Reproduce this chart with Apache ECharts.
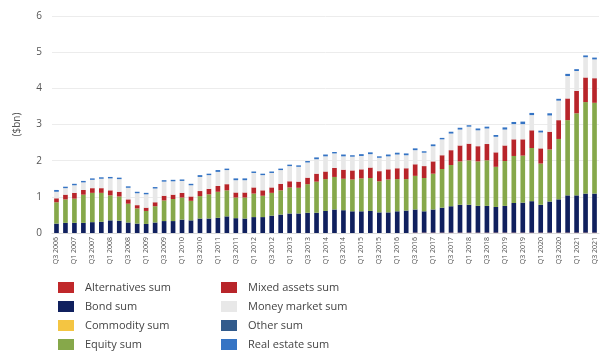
<!DOCTYPE html>
<html>
<head>
<meta charset="utf-8">
<script src="https://cdn.jsdelivr.net/npm/echarts@6/dist/echarts.min.js"></script>
<style>
  html, body { margin: 0; padding: 0; background: #fff; }
  #main { width: 600px; height: 356px; }
</style>
</head>
<body>
<div id="main"></div>
<script>
// quarters Q3 2006 .. Q3 2021
const quarters = [
  'Q3 2006','Q4 2006','Q1 2007','Q2 2007','Q3 2007','Q4 2007','Q1 2008','Q2 2008',
  'Q3 2008','Q4 2008','Q1 2009','Q2 2009','Q3 2009','Q4 2009','Q1 2010','Q2 2010',
  'Q3 2010','Q4 2010','Q1 2011','Q2 2011','Q3 2011','Q4 2011','Q1 2012','Q2 2012',
  'Q3 2012','Q4 2012','Q1 2013','Q2 2013','Q3 2013','Q4 2013','Q1 2014','Q2 2014',
  'Q3 2014','Q4 2014','Q1 2015','Q2 2015','Q3 2015','Q4 2015','Q1 2016','Q2 2016',
  'Q3 2016','Q4 2016','Q1 2017','Q2 2017','Q3 2017','Q4 2017','Q1 2018','Q2 2018',
  'Q3 2018','Q4 2018','Q1 2019','Q2 2019','Q3 2019','Q4 2019','Q1 2020','Q2 2020',
  'Q3 2020','Q4 2020','Q1 2021','Q2 2021','Q3 2021'
];

const alternatives = [
  0,0,0,0,0,0,0,0,0,0,0,0,0,0,0,0,
  0,0,0,0,0,0,0,0,0,0,0,0,0,0,0,0,
  0,0,0,0,0,0,0,0,0.01,0.01,0.01,0.01,0.01,0.01,0.01,0.01,
  0.01,0.01,0.01,0.01,0.01,0.01,0.01,0.01,0.01,0.01,0.01,0.01,0.01
];
const bond = [
  0.26,0.28,0.28,0.28,0.30,0.31,0.35,0.34,0.29,0.26,0.25,0.29,0.33,0.33,0.37,0.35,
  0.40,0.40,0.42,0.46,0.41,0.40,0.44,0.44,0.48,0.51,0.54,0.54,0.56,0.56,0.61,0.65,
  0.63,0.60,0.60,0.61,0.57,0.57,0.60,0.62,0.64,0.59,0.64,0.69,0.73,0.77,0.77,0.74,
  0.74,0.71,0.74,0.82,0.83,0.87,0.77,0.86,0.92,1.03,1.03,1.08,1.08
];
const commodity = new Array(61).fill(0);
const equity = [
  0.59,0.65,0.67,0.78,0.81,0.80,0.69,0.67,0.52,0.42,0.36,0.45,0.57,0.61,0.61,0.54,
  0.62,0.67,0.72,0.72,0.57,0.58,0.65,0.59,0.63,0.67,0.72,0.71,0.79,0.86,0.88,0.90,
  0.87,0.88,0.91,0.91,0.86,0.91,0.89,0.87,0.93,0.92,0.99,1.07,1.14,1.20,1.23,1.23,
  1.26,1.11,1.24,1.30,1.30,1.47,1.14,1.44,1.67,2.08,2.27,2.53,2.51
];
const mixedAssets = [
  0.11,0.13,0.16,0.13,0.13,0.13,0.14,0.13,0.12,0.09,0.09,0.11,0.13,0.12,0.13,0.12,
  0.14,0.15,0.16,0.17,0.14,0.14,0.17,0.15,0.15,0.18,0.17,0.17,0.18,0.22,0.21,0.25,
  0.25,0.25,0.25,0.29,0.28,0.28,0.30,0.30,0.32,0.33,0.34,0.38,0.41,0.44,0.46,0.42,
  0.45,0.40,0.43,0.46,0.45,0.49,0.42,0.49,0.52,0.60,0.62,0.68,0.68
];
const moneyMarket = [
  0.18,0.18,0.21,0.21,0.23,0.26,0.33,0.35,0.32,0.33,0.37,0.38,0.39,0.37,0.33,0.31,
  0.39,0.38,0.39,0.39,0.34,0.34,0.40,0.42,0.40,0.38,0.42,0.41,0.42,0.40,0.42,0.40,
  0.37,0.38,0.37,0.37,0.37,0.36,0.38,0.36,0.39,0.37,0.42,0.44,0.46,0.44,0.47,0.44,
  0.43,0.43,0.44,0.42,0.42,0.42,0.44,0.45,0.54,0.62,0.55,0.56,0.52
];
const other = new Array(61).fill(0);
const realEstate = [
  0.05,0.04,0.04,0.04,0.04,0.04,0.04,0.04,0.04,0.04,0.04,0.04,0.04,0.04,0.04,0.04,
  0.05,0.04,0.05,0.04,0.05,0.05,0.04,0.04,0.04,0.04,0.04,0.04,0.04,0.05,0.05,0.04,
  0.05,0.04,0.05,0.05,0.04,0.05,0.05,0.05,0.05,0.04,0.05,0.04,0.05,0.05,0.04,0.05,
  0.05,0.05,0.06,0.06,0.07,0.06,0.05,0.06,0.05,0.06,0.05,0.05,0.05
];

const seriesNames = [
  'Alternatives sum','Bond sum','Commodity sum','Equity sum',
  'Mixed assets sum','Money market sum','Other sum','Real estate sum'
];
const seriesData = [alternatives, bond, commodity, equity, mixedAssets, moneyMarket, other, realEstate];
const seriesColors = ['#c0282a','#10205e','#f4c542','#86a84a','#b8252a','#e8e8e8','#325b8c','#3574c4'];

const chart = echarts.init(document.getElementById('main'));
const textColor = '#555';
const font = '"Open Sans", "Noto Sans", sans-serif';

const legendBase = {
  orient: 'vertical',
  top: 277,
  itemWidth: 16,
  itemHeight: 11,
  itemGap: 8,
  icon: 'rect',
  textStyle: { color: '#444', fontSize: 11, fontFamily: font, padding: [0, 0, 0, 6] }
};

const option = {
  backgroundColor: '#fff',
  animation: false,
  color: seriesColors,
  textStyle: { fontFamily: font },
  legend: [
    Object.assign({}, legendBase, { left: 53, data: seriesNames.slice(0, 4) }),
    Object.assign({}, legendBase, { left: 216, data: seriesNames.slice(4) })
  ],
  grid: { left: 52, right: 1, top: 16, bottom: 123 },
  xAxis: {
    type: 'category',
    data: quarters,
    axisLine: { lineStyle: { color: '#d9d9d9' } },
    axisTick: { show: false },
    axisLabel: { interval: 1, rotate: 90, fontSize: 7, color: textColor, margin: 4 }
  },
  yAxis: {
    type: 'value',
    min: 0,
    max: 6,
    interval: 1,
    name: '($bn)',
    nameLocation: 'middle',
    nameGap: 30,
    nameRotate: 90,
    nameTextStyle: { color: textColor, fontSize: 10 },
    axisLabel: { color: textColor, fontSize: 10, margin: 10 },
    axisLine: { show: false },
    axisTick: { show: false },
    splitLine: { lineStyle: { color: '#ececec' } }
  },
  series: seriesNames.map(function (name, i) {
    return {
      name: name,
      type: 'bar',
      stack: 'total',
      barWidth: '52%',
      data: seriesData[i]
    };
  })
};

chart.setOption(option);
</script>
</body>
</html>
